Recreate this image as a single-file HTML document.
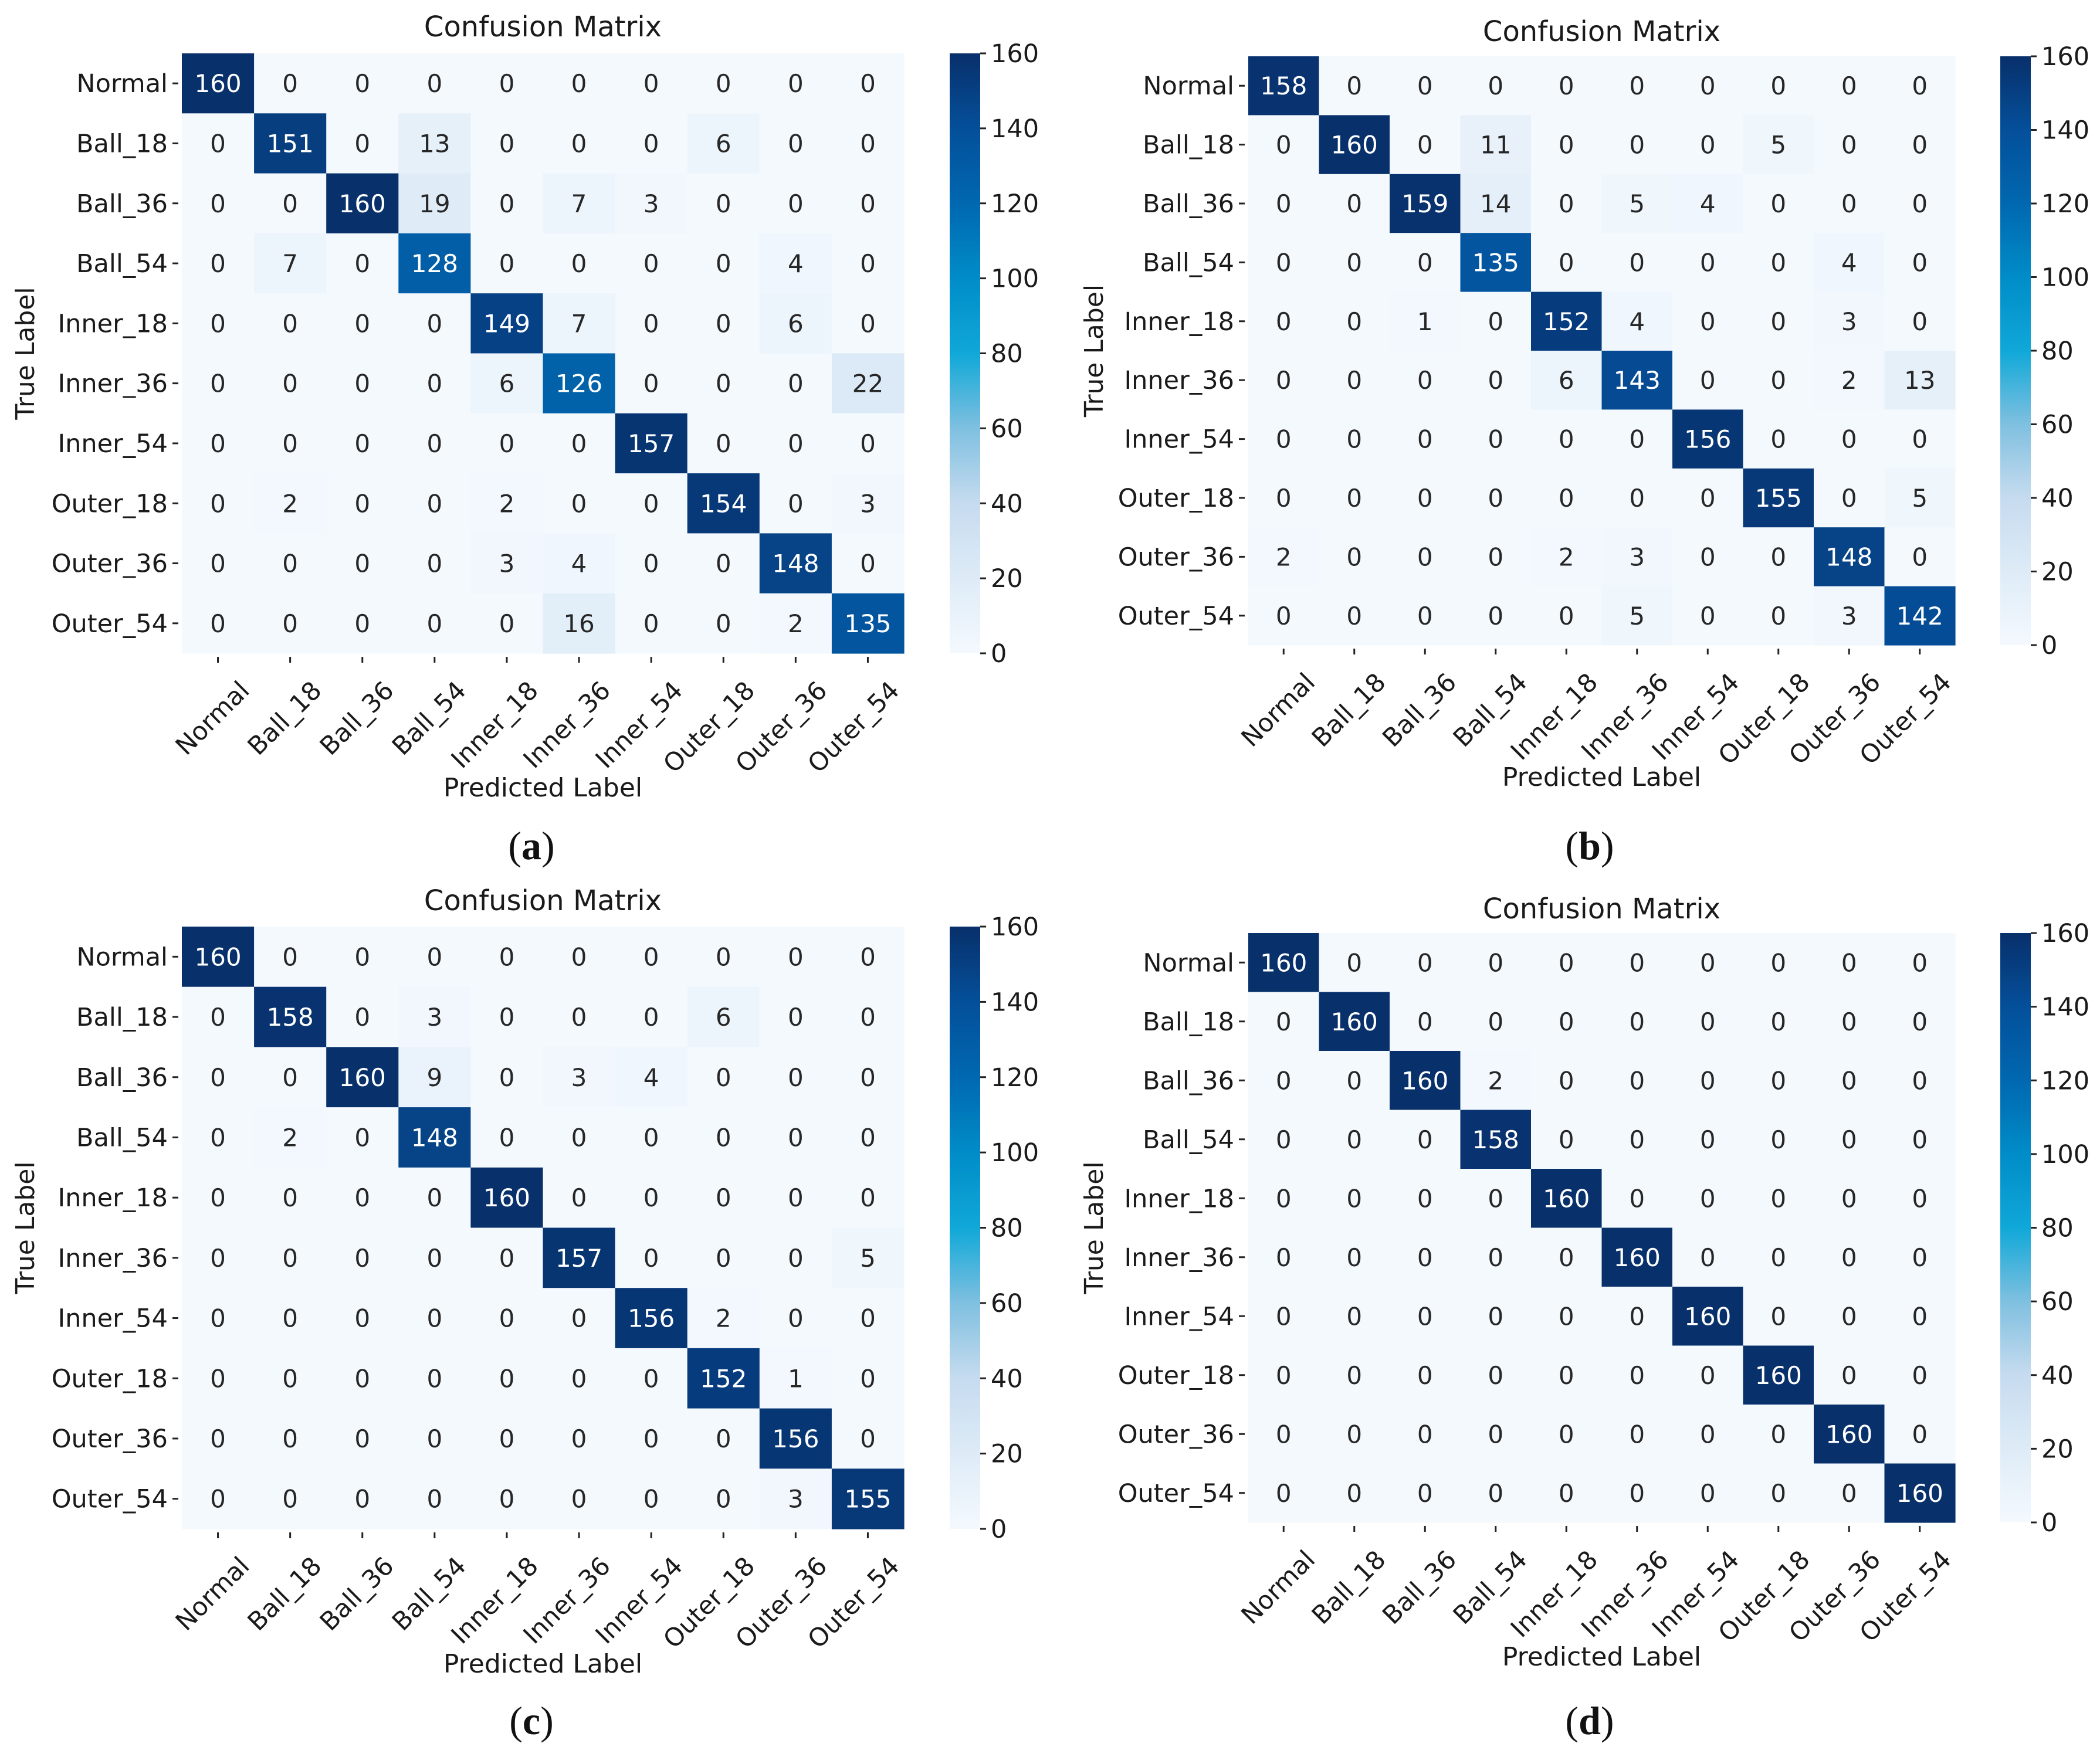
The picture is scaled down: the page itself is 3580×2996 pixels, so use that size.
<!DOCTYPE html>
<html><head><meta charset="utf-8"><style>
html,body{margin:0;padding:0;background:#fff;}
svg{display:block;font-family:"DejaVu Sans","Liberation Sans",sans-serif;}
</style></head><body>
<svg id="fig" width="3580" height="2996" viewBox="0 0 3580 2996" xmlns="http://www.w3.org/2000/svg"></svg>
<script>
const labels = ["Normal","Ball_18","Ball_36","Ball_54","Inner_18","Inner_36","Inner_54","Outer_18","Outer_36","Outer_54"];
const cbTicks = [0,20,40,60,80,100,120,140,160];
const vmax = 160;
const matA = [
[160,0,0,0,0,0,0,0,0,0],
[0,151,0,13,0,0,0,6,0,0],
[0,0,160,19,0,7,3,0,0,0],
[0,7,0,128,0,0,0,0,4,0],
[0,0,0,0,149,7,0,0,6,0],
[0,0,0,0,6,126,0,0,0,22],
[0,0,0,0,0,0,157,0,0,0],
[0,2,0,0,2,0,0,154,0,3],
[0,0,0,0,3,4,0,0,148,0],
[0,0,0,0,0,16,0,0,2,135]];
const matB = [
[158,0,0,0,0,0,0,0,0,0],
[0,160,0,11,0,0,0,5,0,0],
[0,0,159,14,0,5,4,0,0,0],
[0,0,0,135,0,0,0,0,4,0],
[0,0,1,0,152,4,0,0,3,0],
[0,0,0,0,6,143,0,0,2,13],
[0,0,0,0,0,0,156,0,0,0],
[0,0,0,0,0,0,0,155,0,5],
[2,0,0,0,2,3,0,0,148,0],
[0,0,0,0,0,5,0,0,3,142]];
const matC = [
[160,0,0,0,0,0,0,0,0,0],
[0,158,0,3,0,0,0,6,0,0],
[0,0,160,9,0,3,4,0,0,0],
[0,2,0,148,0,0,0,0,0,0],
[0,0,0,0,160,0,0,0,0,0],
[0,0,0,0,0,157,0,0,0,5],
[0,0,0,0,0,0,156,2,0,0],
[0,0,0,0,0,0,0,152,1,0],
[0,0,0,0,0,0,0,0,156,0],
[0,0,0,0,0,0,0,0,3,155]];
const matD = [
[160,0,0,0,0,0,0,0,0,0],
[0,160,0,0,0,0,0,0,0,0],
[0,0,160,2,0,0,0,0,0,0],
[0,0,0,158,0,0,0,0,0,0],
[0,0,0,0,160,0,0,0,0,0],
[0,0,0,0,0,160,0,0,0,0],
[0,0,0,0,0,0,160,0,0,0],
[0,0,0,0,0,0,0,160,0,0],
[0,0,0,0,0,0,0,0,160,0],
[0,0,0,0,0,0,0,0,0,160]];

const NS="http://www.w3.org/2000/svg";
const svg=document.getElementById('fig');
const stops=[[0,[244,249,254]],[0.125,[222,235,247]],[0.25,[198,219,239]],[0.375,[127,192,224]],[0.5,[16,168,216]],[0.625,[0,140,200]],[0.75,[0,104,176]],[0.875,[4,79,154]],[1,[8,48,107]]];
function cmap(t){t=Math.max(0,Math.min(1,t));for(let i=1;i<stops.length;i++){if(t<=stops[i][0]){const a=stops[i-1],b=stops[i];const f=(t-a[0])/(b[0]-a[0]);const c=a[1].map((v,k)=>Math.round(v+(b[1][k]-v)*f));return `rgb(${c[0]},${c[1]},${c[2]})`;}}return 'rgb(8,48,107)';}
function mk(tag,attrs,parent){const e=document.createElementNS(NS,tag);for(const k in attrs)e.setAttribute(k,attrs[k]);(parent||svg).appendChild(e);return e;}

function panel(p){
  const g=mk('g',{});
  
  
  const n=labels.length, cw=p.w/n, ch=p.h/n;
  const xs=i=>p.x+cw*(i+0.5), ys=j=>p.y+ch*(j+0.5);
  const cx=p.x+p.w/2;
  const t=mk('text',{x:cx,y:p.ty,'text-anchor':'middle','font-size':48,fill:'#1a1a1a'},g);t.textContent='Confusion Matrix';
  
  
  p.m.forEach((row,j)=>row.forEach((v,i)=>{
    const r=mk('rect',{x:p.x+cw*i,y:p.y+ch*j,width:cw+0.6,height:ch+0.6,fill:cmap(v/vmax)},g);
    
    
    const tx=mk('text',{x:xs(i),y:ys(j)+15,'text-anchor':'middle','font-size':42,fill:v/vmax>0.5?'#ffffff':'#262626'},g);tx.textContent=v;
    
    
  }));
  labels.forEach((l,j)=>{
    mk('line',{x1:p.x-16,x2:p.x-6,y1:ys(j),y2:ys(j),stroke:'#222','stroke-width':3},g);
    const a=mk('text',{x:p.x-24,y:ys(j)+15,'text-anchor':'end','font-size':43,fill:'#1a1a1a'},g);a.textContent=l;
    
    
  });
  labels.forEach((l,i)=>{
    const b=p.y+p.h;
    mk('line',{x1:xs(i),x2:xs(i),y1:b+6,y2:b+16,stroke:'#222','stroke-width':3},g);
    const a=mk('text',{'text-anchor':'end','font-size':43,fill:'#1a1a1a',transform:`translate(${xs(i)+56},${b+66}) rotate(-45)`},g);a.textContent=l;
    
    
  });
  const xl=mk('text',{x:cx,y:p.xly,'text-anchor':'middle','font-size':44,fill:'#1a1a1a'},g);xl.textContent='Predicted Label';
  
  
  const yl=mk('text',{'text-anchor':'middle','font-size':44,fill:'#1a1a1a',transform:`translate(${p.ylx},${p.y+p.h/2}) rotate(-90)`},g);yl.textContent='True Label';
  
  
  const gid='cbg'+p.id;
  const defs=mk('defs',{},g);const lg=mk('linearGradient',{id:gid,x1:0,y1:1,x2:0,y2:0},defs);
  for(let k=0;k<=40;k++){mk('stop',{offset:k/40,'stop-color':cmap(k/40)},lg);}
  const cb=mk('rect',{x:p.cbx,y:p.y,width:52,height:p.h,fill:`url(#${gid})`},g);
  
  
  cbTicks.forEach(v=>{
    const yy=p.y+p.h-(v/vmax)*p.h;
    mk('line',{x1:p.cbx+52,x2:p.cbx+62,y1:yy,y2:yy,stroke:'#222','stroke-width':3},g);
    const a=mk('text',{x:p.cbx+70,y:yy+15,'font-size':43,fill:'#1a1a1a'},g);a.textContent=v;
    
    
  });
  const cap=mk('text',{x:p.capx,y:p.capy,'text-anchor':'middle','font-size':68,fill:'#111','font-family':'"Liberation Serif",serif'},g);
  cap.innerHTML='(<tspan font-weight="bold">'+p.id+'</tspan>)';
  
  
}
panel({id:'a',m:matA,x:310,y:91,w:1231,h:1023,cbx:1619,ty:62,xly:1358,ylx:58,capx:906,capy:1465});
panel({id:'b',m:matB,x:2128,y:96,w:1205,h:1004,cbx:3410,ty:70,xly:1340,ylx:1880,capx:2710,capy:1465});
panel({id:'c',m:matC,x:310,y:1580,w:1231,h:1027,cbx:1619,ty:1552,xly:2852,ylx:58,capx:906,capy:2957});
panel({id:'d',m:matD,x:2128,y:1591,w:1205,h:1005,cbx:3410,ty:1566,xly:2840,ylx:1880,capx:2710,capy:2957});
</script>
</body></html>
